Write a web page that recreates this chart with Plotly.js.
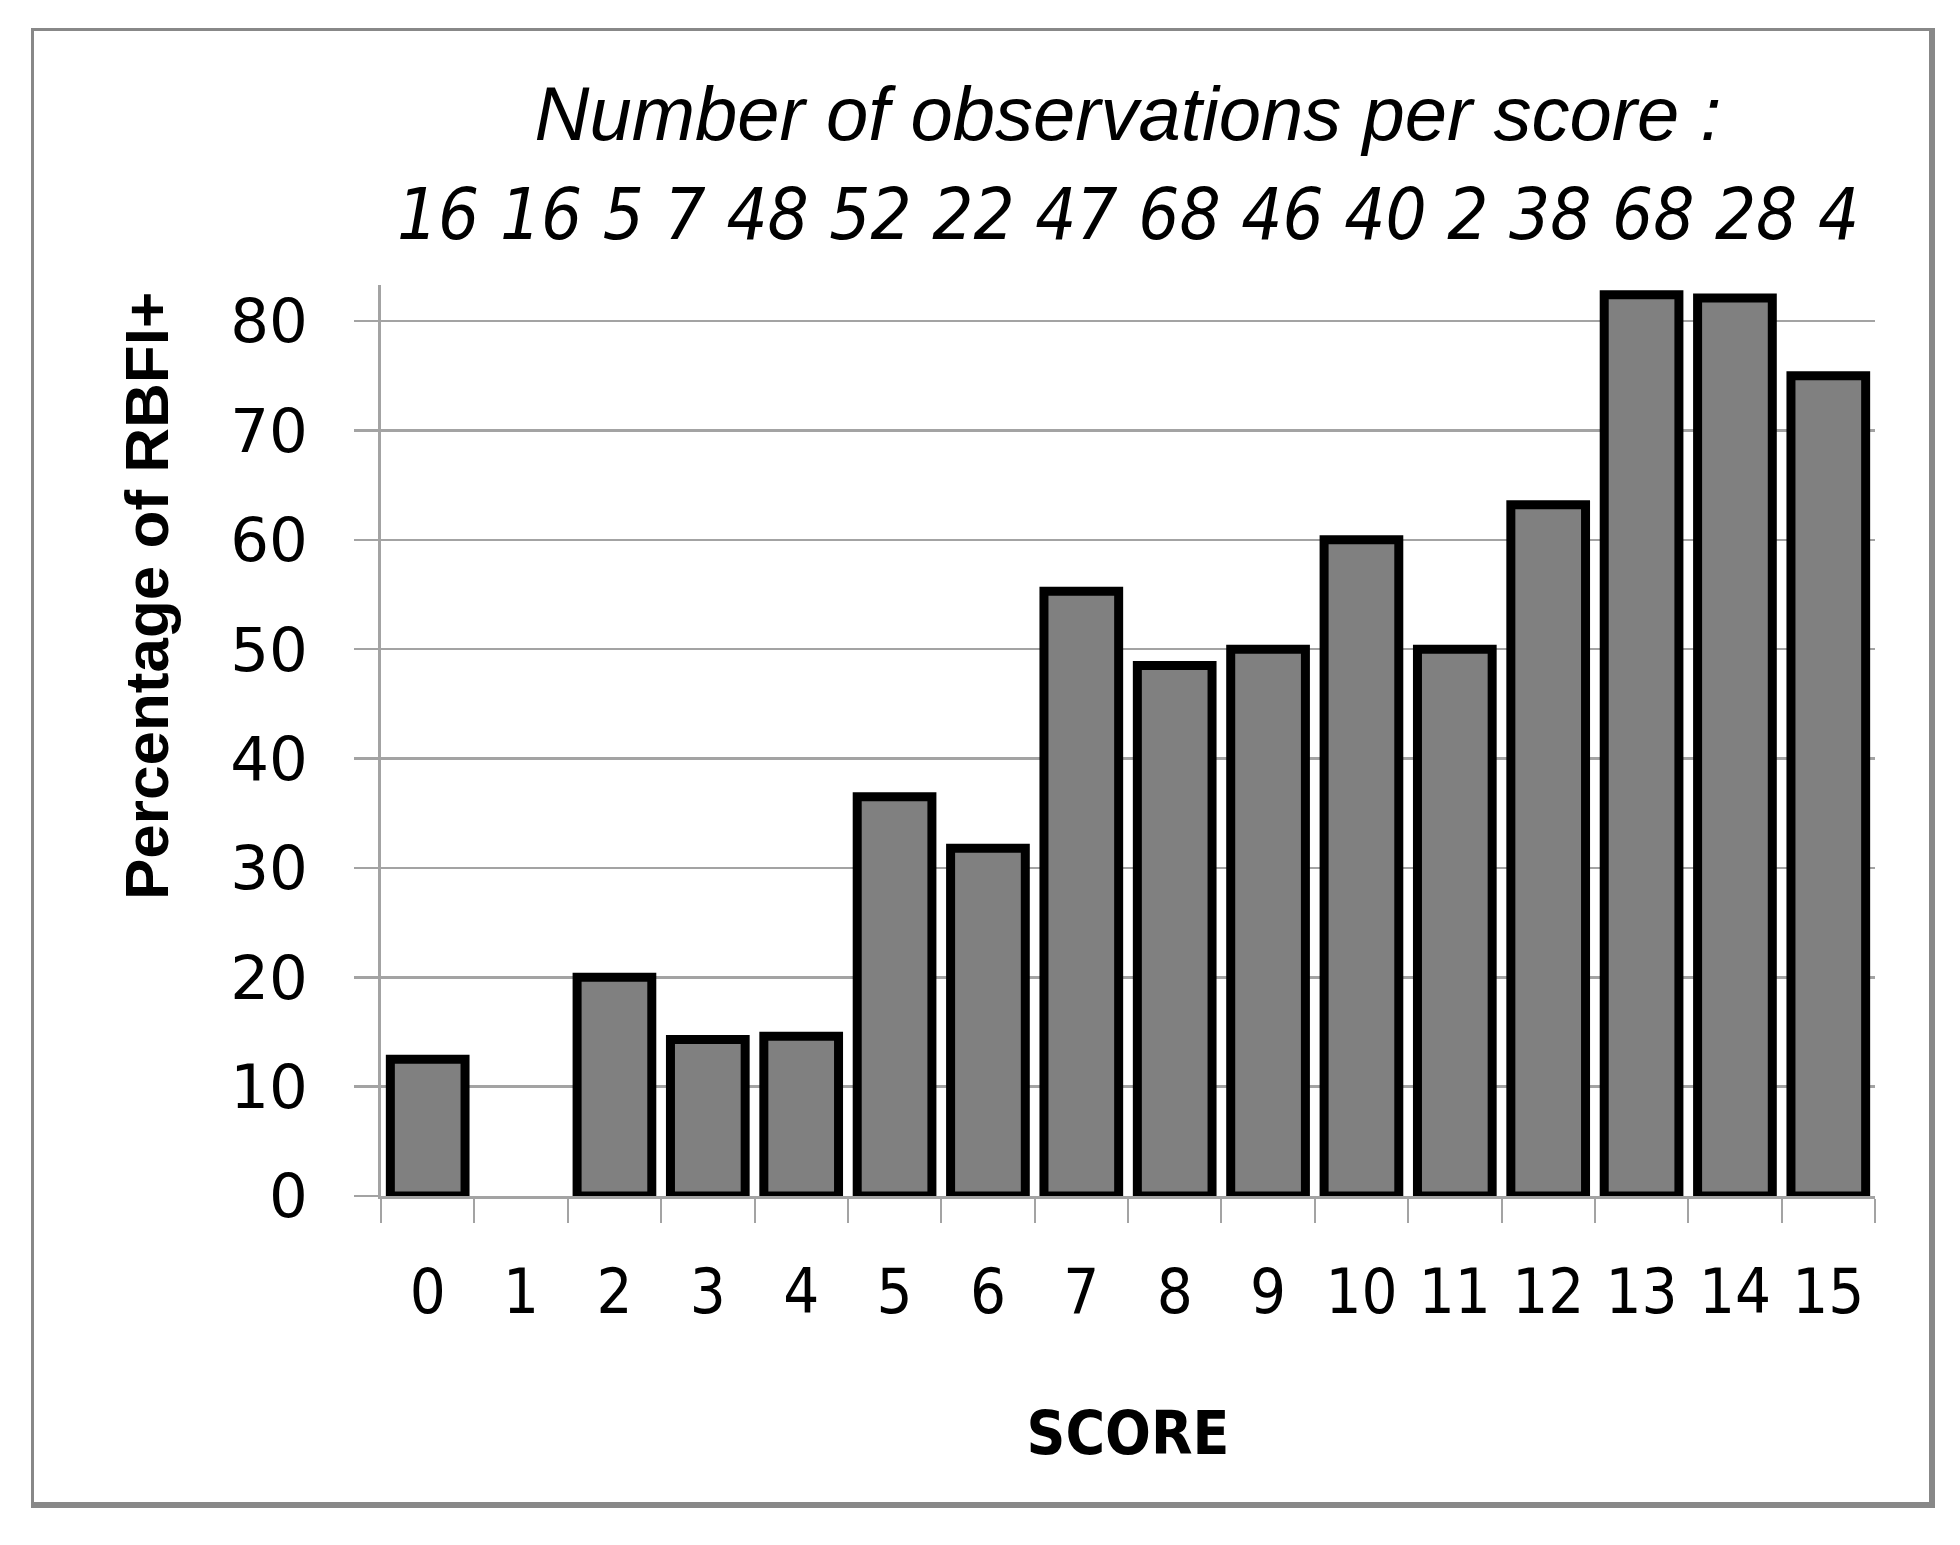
<!DOCTYPE html>
<html>
<head>
<meta charset="utf-8">
<script src="https://cdn.plot.ly/plotly-3.0.1.min.js"></script>
<style>
  html, body { margin: 0; padding: 0; background: #ffffff; }
  #chart { position: absolute; left: 0; top: 0; width: 1960px; height: 1545px; }
  #frame {
    position: absolute; left: 31px; top: 28px; width: 1904px; height: 1480px;
    box-sizing: border-box; pointer-events: none;
    border-left: 3px solid #888888; border-top: 3px solid #888888;
    border-right: 6px solid #888888; border-bottom: 6px solid #888888;
  }
</style>
</head>
<body>
<div id="chart"></div>
<div id="frame"></div>
<script>
// Data
const scores = ["0","1","2","3","4","5","6","7","8","9","10","11","12","13","14","15"];
const percentRBFI = [12.5, 0, 20, 14.3, 14.6, 36.5, 31.8, 55.3, 48.5, 50, 60, 50, 63.2, 82.4, 82.1, 75];
const observations = [16, 16, 5, 7, 48, 52, 22, 47, 68, 46, 40, 2, 38, 68, 28, 4];
const titleLine1 = "Number of observations per score :";
const xTitle = "SCORE";
const yTitle = "Percentage of RBFI+";
const yTicks = [0, 10, 20, 30, 40, 50, 60, 70, 80];

const titleLine2 = observations.join(" ");

// No outline for empty (zero) bars, as in the reference
const outlineWidths = percentRBFI.map(v => (v > 0 ? 9 : 0));

const trace = {
  type: "bar",
  x: scores,
  y: percentRBFI,
  marker: { color: "#808080", line: { color: "#000000", width: outlineWidths } },
  hoverinfo: "x+y"
};

const gridGray = "#a3a3a3";

// plot area in pixels
const plotL = 381, plotR = 1875, plotT = 285, plotB = 1196;
const pxToPaperX = px => (px - plotL) / (plotR - plotL);
const pxToPaperY = py => (plotB - py) / (plotB - plotT);

const layout = {
  width: 1960,
  height: 1545,
  paper_bgcolor: "#ffffff",
  plot_bgcolor: "#ffffff",
  margin: { l: plotL, r: 1960 - plotR, t: plotT, b: 1545 - plotB, pad: 0 },
  showlegend: false,
  bargap: 0.2,
  title: {
    text: titleLine1 + "<br><span style=\"font-family:'DejaVu Sans Condensed','Liberation Sans';font-size:72px\">" + titleLine2 + "</span>",
    font: { family: "Liberation Sans, Arial, sans-serif", size: 76, color: "#000000", style: "italic" },
    x: 1128 / 1960,
    xanchor: "center",
    xref: "container",
    yref: "container",
    y: 1 - 140 / 1545,
    yanchor: "top"
  },
  annotations: [
    {
      text: yTitle,
      textangle: -90,
      xref: "paper",
      yref: "paper",
      x: pxToPaperX(146),
      y: pxToPaperY(596),
      xanchor: "center",
      yanchor: "middle",
      showarrow: false,
      font: { family: "Liberation Sans, Arial, sans-serif", size: 62, color: "#000000", weight: "bold" }
    }
  ],
  xaxis: {
    type: "category",
    range: [-0.5, 15.5],
    tickvals: scores,
    ticktext: scores,
    tickson: "boundaries",
    ticks: "outside",
    ticklen: 24,
    tickwidth: 2,
    tickcolor: gridGray,
    ticklabelstandoff: 38,
    showline: true,
    linecolor: gridGray,
    linewidth: 3,
    showgrid: false,
    zeroline: false,
    tickfont: { family: "DejaVu Sans Condensed, Liberation Sans, sans-serif", size: 63, color: "#000000" },
    title: {
      text: xTitle,
      font: { family: "DejaVu Sans Condensed, Liberation Sans, sans-serif", size: 60, color: "#000000", weight: "bold" },
      standoff: 86
    },
    fixedrange: true
  },
  yaxis: {
    range: [0, 83.3],
    tickvals: yTicks,
    ticks: "outside",
    ticklen: 24,
    tickwidth: 2.5,
    tickcolor: gridGray,
    ticklabelstandoff: 34,
    showline: true,
    linecolor: gridGray,
    linewidth: 3,
    showgrid: true,
    gridcolor: gridGray,
    gridwidth: 2.5,
    zeroline: false,
    tickfont: { family: "DejaVu Sans, Verdana, sans-serif", size: 61, color: "#000000" },
    fixedrange: true
  }
};

Plotly.newPlot("chart", [trace], layout, { displayModeBar: false, staticPlot: true });
</script>
</body>
</html>
